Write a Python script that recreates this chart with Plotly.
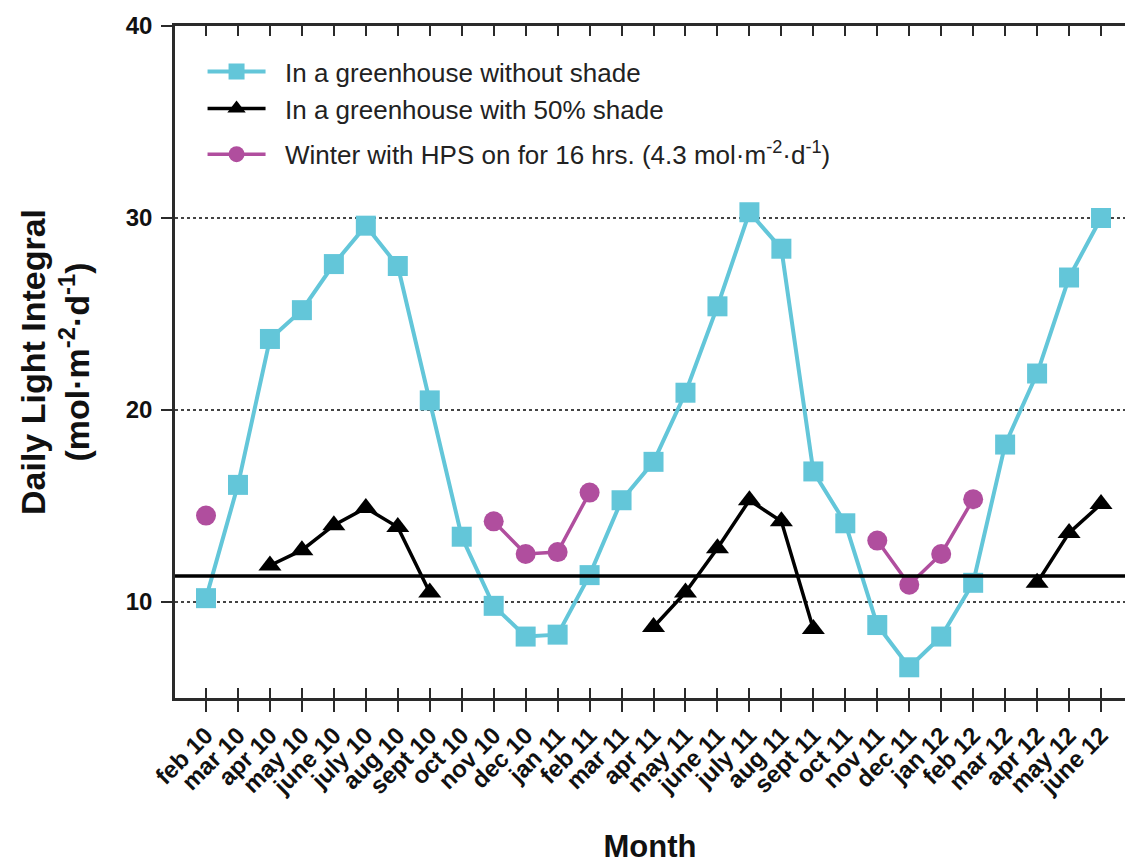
import plotly.graph_objects as go

months = ["feb 10", "mar 10", "apr 10", "may 10", "june 10", "july 10", "aug 10", "sept 10",
          "oct 10", "nov 10", "dec 10", "jan 11", "feb 11", "mar 11", "apr 11", "may 11",
          "june 11", "july 11", "aug 11", "sept 11", "oct 11", "nov 11", "dec 11", "jan 12",
          "feb 12", "mar 12", "apr 12", "may 12", "june 12"]

no_shade = [10.2, 16.1, 23.7, 25.2, 27.6, 29.6, 27.5, 20.5, 13.4, 9.8, 8.2, 8.3, 11.4, 15.3,
            17.3, 20.9, 25.4, 30.3, 28.4, 16.8, 14.1, 8.8, 6.6, 8.2, 11.0, 18.2, 21.9, 26.9, 30.0]

shade_50 = [None, None, 11.9, 12.7, 14.0, 14.9, 13.9, 10.5, None, None, None, None, None, None,
            8.7, 10.5, 12.8, 15.3, 14.2, 8.6, None, None, None, None, None, None, 11.0, 13.6, 15.1]

hps_winter = [14.5, None, None, None, None, None, None, None, None, 14.2, 12.5, 12.6, 15.7, None,
              None, None, None, None, None, None, None, 13.2, 10.9, 12.5, 15.35, None, None, None, None]

reference_level = 11.35

y_ticks = [10, 20, 30, 40]

names = ["In a greenhouse without shade",
         "In a greenhouse with 50% shade",
         "Winter with HPS on for 16 hrs. (4.3 mol·m<sup>-2</sup>·d<sup>-1</sup>)"]

CYAN = "#63C6D9"
MAGENTA = "#B04E9E"
AXIS = "#2a2a2a"
FONT = "Liberation Sans, Arial, sans-serif"
PAD = "\u00a0\u00a0"

idx = list(range(len(months)))

fig = go.Figure()
fig.add_trace(go.Scatter(x=idx, y=no_shade, name=PAD + names[0], mode="lines+markers",
                         legendgroup="a",
                         line=dict(color=CYAN, width=4),
                         marker=dict(symbol="square", size=20, color=CYAN)))
fig.add_trace(go.Scatter(x=idx, y=shade_50, name=PAD + names[1], mode="lines+markers",
                         legendgroup="a",
                         line=dict(color="black", width=3.5),
                         marker=dict(symbol="triangle-up", size=20, color="black"),
                         connectgaps=False))
fig.add_trace(go.Scatter(x=idx, y=hps_winter, name=PAD + names[2], mode="lines+markers",
                         legendgroup="b",
                         line=dict(color=MAGENTA, width=3.5),
                         marker=dict(symbol="circle", size=20, color=MAGENTA),
                         connectgaps=False))

fig.add_shape(type="line", xref="x domain", x0=0, x1=1, yref="y",
              y0=reference_level, y1=reference_level,
              line=dict(color="black", width=3.5))

xr = [-0.97, 28.75]
fig.update_layout(
    width=1125, height=864,
    margin=dict(l=175, r=0, t=26, b=166),
    plot_bgcolor="white", paper_bgcolor="white",
    font=dict(family=FONT, color="#222"),
    showlegend=True,
    legend=dict(x=0.029, y=0.967, xanchor="left", yanchor="top",
                bgcolor="rgba(0,0,0,0)", font=dict(size=26, color="#222"),
                itemwidth=58, tracegroupgap=9, traceorder="grouped"),
    xaxis=dict(range=xr, tickmode="array", tickvals=idx, ticktext=months,
               tickangle=-45, ticks="outside", ticklen=11, tickwidth=2, tickcolor=AXIS,
               showline=True, linewidth=2.5, linecolor=AXIS, showgrid=False, zeroline=False,
               tickfont=dict(size=24, weight="bold", color="#111"),
               title=dict(text="Month", font=dict(size=31, weight="bold", color="#111"),
                          standoff=40)),
    xaxis2=dict(range=xr, overlaying="x", side="top", anchor="y", tickmode="array",
                tickvals=idx, ticks="inside", ticklen=10, tickwidth=2, tickcolor=AXIS,
                showticklabels=False, showline=True, linewidth=2.5, linecolor=AXIS,
                showgrid=False, zeroline=False),
    xaxis3=dict(range=xr, overlaying="x", side="bottom", anchor="y", tickmode="array",
                tickvals=idx, ticks="inside", ticklen=10, tickwidth=2, tickcolor=AXIS,
                showticklabels=False, showline=False, showgrid=False, zeroline=False),
    yaxis=dict(range=[5, 40], tickmode="array", tickvals=y_ticks, ticks="outside",
               ticklen=11, tickwidth=2, tickcolor=AXIS, showline=True, linewidth=2.5,
               linecolor=AXIS, showgrid=True, gridcolor="#444", griddash="dot", gridwidth=1.5,
               zeroline=False, tickfont=dict(size=24, weight="bold", color="#111"),
               ticklabelstandoff=4,
               title=dict(text="Daily Light Integral<br>(mol·m<sup>-2</sup>·d<sup>-1</sup>)",
                          font=dict(size=34, weight="bold", color="#111"), standoff=26)),
)
fig.add_trace(go.Scatter(x=[idx[0]], y=[None], xaxis="x2", showlegend=False, hoverinfo="skip"))
fig.add_trace(go.Scatter(x=[idx[0]], y=[None], xaxis="x3", showlegend=False, hoverinfo="skip"))

fig.write_html("out.html", config={"displayModeBar": False},
               post_script="document.body.style.margin='0';document.body.style.overflow='hidden';")
